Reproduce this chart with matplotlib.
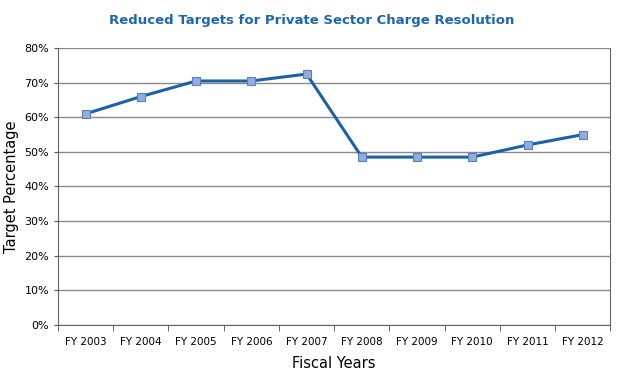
import numpy as np
import matplotlib
matplotlib.use('Agg')
import matplotlib.pyplot as plt
from matplotlib.ticker import FuncFormatter, FixedLocator

# -----------------------------
# DATA
# -----------------------------
years = ['FY 2003', 'FY 2004', 'FY 2005', 'FY 2006', 'FY 2007',
         'FY 2008', 'FY 2009', 'FY 2010', 'FY 2011', 'FY 2012']
targets = [61, 66, 70.5, 70.5, 72.5, 48.5, 48.5, 48.5, 52, 55]

# -----------------------------
# PLOT
# -----------------------------
fig = plt.figure(figsize=(6.27, 3.76), dpi=100)
ax = fig.add_axes([0.0925, 0.136, 0.881, 0.736])

x = np.arange(len(years))
ax.plot(x, targets, color='#1f5fa6', lw=2.2, zorder=3,
        marker='s', markersize=5.5, markerfacecolor='#92acdc',
        markeredgecolor='#5a7fbf', markeredgewidth=0.8)

ax.set_xlim(-0.5, len(years) - 0.5)
ax.set_ylim(0, 80)
ax.set_yticks(np.arange(0, 81, 10))
ax.yaxis.set_major_formatter(FuncFormatter(lambda v, p: f'{int(v)}%'))
ax.yaxis.grid(True, color='#8a8a8a', lw=1.0)
ax.set_axisbelow(True)

ax.set_xticks(x)
ax.set_xticklabels(years, fontsize=7.5)
ax.xaxis.set_minor_locator(FixedLocator(np.arange(-0.5, len(years), 1)))
ax.tick_params(axis='x', which='major', length=0, pad=9)
ax.tick_params(axis='x', which='minor', length=4, color='#555555')
ax.tick_params(axis='y', length=3, labelsize=8, color='#555555')

for s in ['left', 'bottom', 'right']:
    ax.spines[s].set_color('#666666')
ax.spines['top'].set_visible(False)

ax.set_xlabel('Fiscal Years', fontsize=10.5, labelpad=6)
ax.set_ylabel('Target Percentage', fontsize=10.5, labelpad=4)
fig.text(0.497, 0.945, 'Reduced Targets for Private Sector Charge Resolution',
         ha='center', va='center', fontsize=9.5, fontweight='bold', color='#1f66b0')

fig.savefig('out.png', dpi=100)
